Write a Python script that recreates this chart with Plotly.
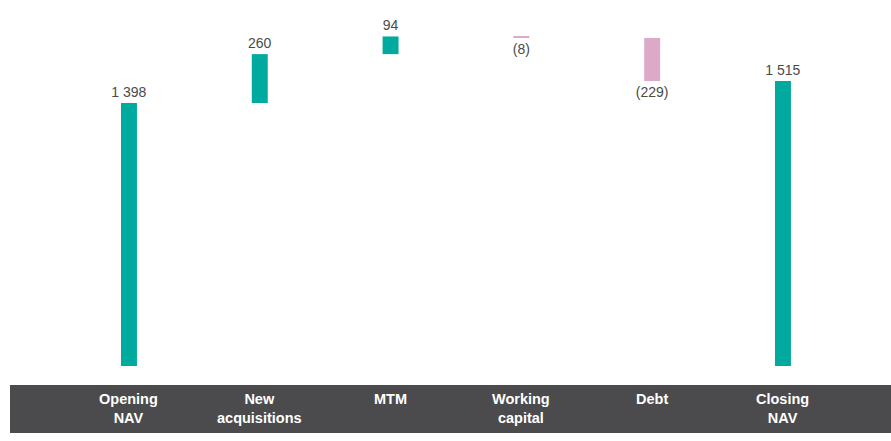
import plotly.graph_objects as go

categories = ["Opening<br>NAV", "New<br>acquisitions", "MTM", "Working<br>capital", "Debt", "Closing<br>NAV"]
measures = ["absolute", "relative", "relative", "relative", "relative", "total"]
values = [1398, 260, 94, -8, -229, 1515]
value_labels = ["1 398", "260", "94", "(8)", "(229)", "1 515"]

TEAL = "#00AA9E"
PINK = "#DDA9C9"
BAND = "#4B4B4D"
TEXT = "#4A4A4A"

xs = list(range(len(categories)))

fig = go.Figure(go.Waterfall(
    x=xs,
    y=values,
    measure=measures,
    text=value_labels,
    textposition="outside",
    constraintext="none",
    textfont=dict(family="Liberation Sans, Arial, sans-serif", size=14, color=TEXT),
    width=0.122,
    increasing=dict(marker=dict(color=TEAL)),
    decreasing=dict(marker=dict(color=PINK)),
    totals=dict(marker=dict(color=TEAL)),
    connector=dict(visible=False),
    cliponaxis=False,
    hoverinfo="skip",
))

fig.add_shape(type="rect", xref="paper", yref="paper",
              x0=10/891, x1=1.0, y0=(366-433)/356, y1=(366-385)/356,
              fillcolor=BAND, line=dict(width=0), layer="below")

for i, c in enumerate(categories):
    fig.add_annotation(x=i, xref="x", y=(366-389)/356, yref="paper",
                       yanchor="top", text="<b>" + c + "</b>", showarrow=False,
                       font=dict(family="Liberation Sans, Arial, sans-serif", size=14.5, color="white"),
                       align="center")

fig.update_layout(
    width=891, height=441,
    margin=dict(l=0, r=0, t=10, b=75),
    paper_bgcolor="white", plot_bgcolor="white",
    showlegend=False,
    xaxis=dict(range=[-0.986, 5.826], visible=False, fixedrange=True),
    yaxis=dict(range=[0, 1892.6], visible=False, fixedrange=True),
)

fig.write_html("out.html", config={"displayModeBar": False},
               post_script="document.body.style.margin='0';document.body.style.overflow='hidden';")
